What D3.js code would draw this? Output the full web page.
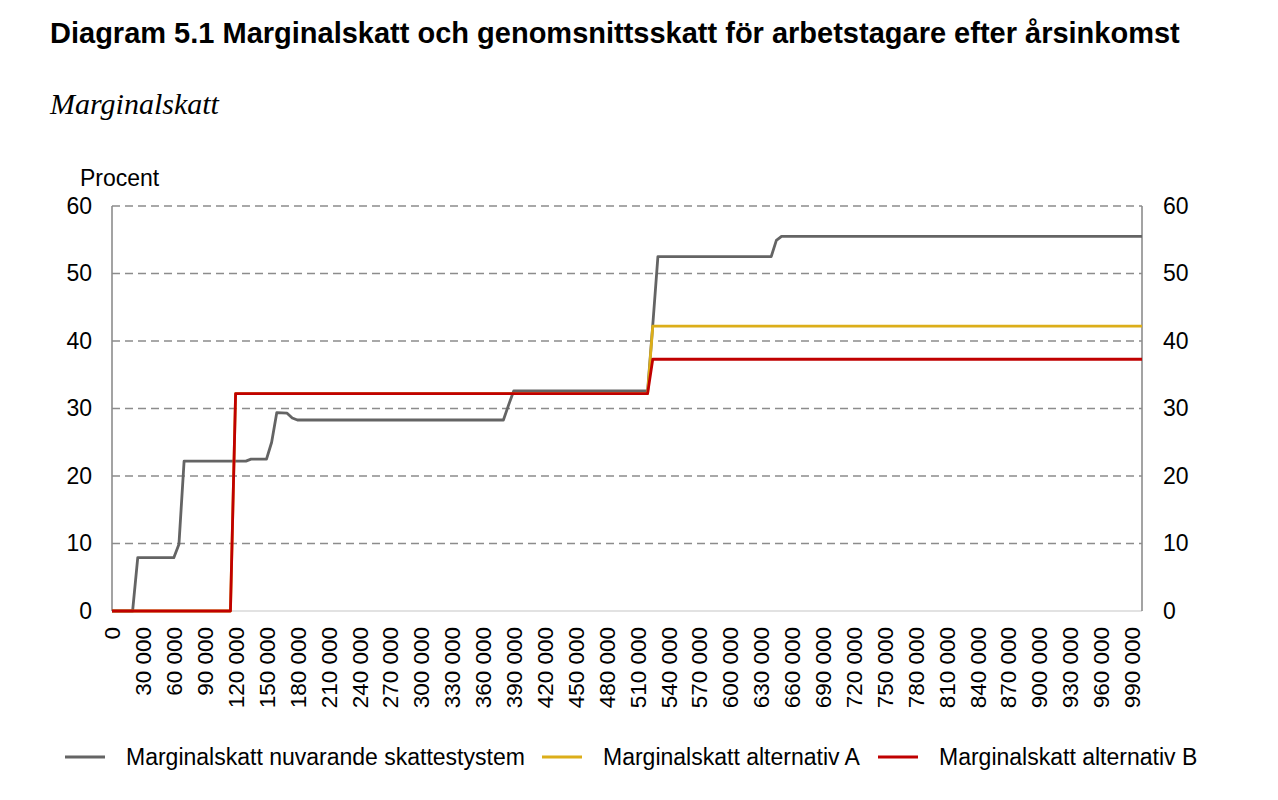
<!DOCTYPE html>
<html><head><meta charset="utf-8">
<script src="https://cdn.jsdelivr.net/npm/d3@7"></script>
<style>body{margin:0;background:#fff}svg{display:block}</style>
</head><body>
<svg id="c" width="1278" height="800"></svg>
<script>
const title = "Diagram 5.1 Marginalskatt och genomsnittsskatt för arbetstagare efter årsinkomst";
const subtitle = "Marginalskatt";
const yUnit = "Procent";
const yTicks = [0,10,20,30,40,50,60];
const xTicks = d3.range(0, 1000000, 30000);
const seriesNames = ["Marginalskatt nuvarande skattestystem","Marginalskatt alternativ A","Marginalskatt alternativ B"];
const seriesColors = ["#646464","#dcae19","#c00000"];

const grayIncome = [0,20000,25000,60000,65000,70000,130000,135000,150000,155000,160000,170000,175000,180000,380000,385000,390000,520000,525000,530000,640000,645000,650000,1000000];
const grayValue  = [0,0,7.9,7.9,9.9,22.2,22.2,22.5,22.5,25.0,29.4,29.3,28.6,28.3,28.3,30.5,32.6,32.6,42.3,52.5,52.5,54.9,55.5,55.5];
const altIncome  = [0,115000,120000,520000,525000,1000000];
const altAValue  = [0,0,32.2,32.2,42.2,42.2];
const altBValue  = [0,0,32.2,32.2,37.3,37.3];

const svg = d3.select("#c");
const L = 112, R = 1142, T = 206, B = 611;
const x = d3.scaleLinear().domain([0,1000000]).range([L,R]);
const y = d3.scaleLinear().domain([0,60]).range([B,T]);
const font = "'Liberation Sans', Arial, sans-serif";

svg.append("text").attr("x",50).attr("y",43).attr("font-family",font).attr("font-weight","bold")
  .attr("font-size",29).attr("fill","#000").text(title);
svg.append("text").attr("x",50).attr("y",114).attr("font-family","'Liberation Serif', serif").attr("font-style","italic")
  .attr("font-size",30).attr("fill","#000").text(subtitle);
svg.append("text").attr("x",80).attr("y",186).attr("font-family",font).attr("font-size",23).attr("fill","#000").text(yUnit);

// gridlines
svg.append("g").selectAll("line").data(yTicks.filter(d=>d>0)).join("line")
  .attr("x1",L).attr("x2",R).attr("y1",d=>y(d)).attr("y2",d=>y(d))
  .attr("stroke","#8c8c8c").attr("stroke-width",1.6).attr("stroke-dasharray","8,5");

// axes lines
svg.append("line").attr("x1",L).attr("x2",R).attr("y1",B).attr("y2",B).attr("stroke","#d9d9d9").attr("stroke-width",1.6);
svg.append("line").attr("x1",L).attr("x2",L).attr("y1",T).attr("y2",B).attr("stroke","#8c8c8c").attr("stroke-width",1.6);
svg.append("line").attr("x1",R).attr("x2",R).attr("y1",T).attr("y2",B).attr("stroke","#8c8c8c").attr("stroke-width",1.6);

// y labels
const yl = d3.axisLeft(y).tickValues(yTicks).tickSize(0).tickPadding(20);
const gL = svg.append("g").attr("transform",`translate(${L},0)`).call(yl);
const yr = d3.axisRight(y).tickValues(yTicks).tickSize(0).tickPadding(21);
const gR = svg.append("g").attr("transform",`translate(${R},0)`).call(yr);
[gL,gR].forEach(g=>{g.select(".domain").remove();
  g.selectAll("text").attr("font-family",font).attr("font-size",23).attr("fill","#000");});

// x labels
const fmt = v => d3.format(",")(v).replace(/,/g," ");
const xa = d3.axisBottom(x).tickValues(xTicks).tickSize(0).tickFormat(fmt);
const gX = svg.append("g").attr("transform",`translate(0,${B})`).call(xa);
gX.select(".domain").remove();
gX.selectAll("text").attr("font-family",font).attr("font-size",22.5).attr("fill","#000")
  .attr("transform","rotate(-90)").attr("text-anchor","end").attr("x",-16).attr("y",0).attr("dy","0.35em");

// lines
const line = d3.line().x(d=>x(d[0])).y(d=>y(d[1]));
const seriesData = [
  d3.zip(grayIncome, grayValue),
  d3.zip(altIncome, altAValue),
  d3.zip(altIncome, altBValue)
];
svg.append("g").selectAll("path").data(seriesData).join("path")
  .attr("d",line).attr("fill","none").attr("stroke",(d,i)=>seriesColors[i])
  .attr("stroke-width",2.8).attr("stroke-linejoin","round").attr("stroke-linecap","butt");

// legend
const legX = [65, 542, 878];
const lg = svg.append("g").selectAll("g").data(seriesNames).join("g")
  .attr("transform",(d,i)=>`translate(${legX[i]},757)`);
lg.append("line").attr("x1",0).attr("x2",40).attr("y1",0).attr("y2",0)
  .attr("stroke",(d,i)=>seriesColors[i]).attr("stroke-width",3);
lg.append("text").attr("x",61).attr("y",0).attr("dy","0.35em").attr("font-family",font)
  .attr("font-size",23).attr("fill","#000").text(d=>d);
</script>
</body></html>
